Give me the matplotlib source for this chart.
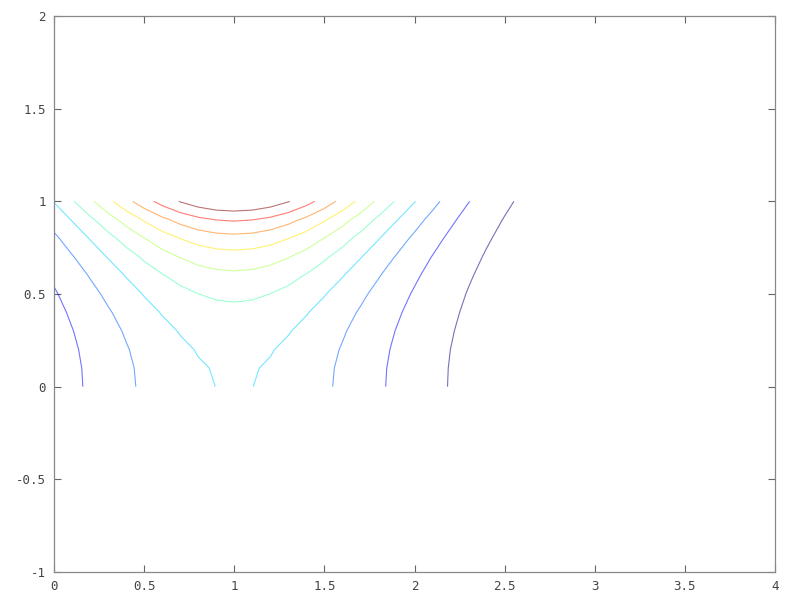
import numpy as np
import matplotlib
matplotlib.use("Agg")
import matplotlib.pyplot as plt

# Grid of the sampled field (coarse grid, as in the original)
x_start, x_stop, x_step = 0.0, 4.0, 0.1
y_start, y_stop, y_step = 0.0, 1.0, 0.1
x_center = 1.0
n_levels = 10

# Axis settings
x_limits = [0, 4]
y_limits = [-1, 2]
x_ticks = [0, 0.5, 1, 1.5, 2, 2.5, 3, 3.5, 4]
y_ticks = [-1, -0.5, 0, 0.5, 1, 1.5, 2]
x_tick_labels = ["0", "0.5", "1", "1.5", "2", "2.5", "3", "3.5", "4"]
y_tick_labels = ["-1", "-0.5", "0", "0.5", "1", "1.5", "2"]

xs = np.arange(x_start, x_stop + x_step / 2, x_step)
ys = np.arange(y_start, y_stop + y_step / 2, y_step)
X, Y = np.meshgrid(xs, ys)
Z = np.exp(-(X - x_center) ** 2 + Y ** 2)

zmin, zmax = Z.min(), Z.max()
levels = np.linspace(zmin, zmax, n_levels + 2)[1:-1]

fig = plt.figure(figsize=(8, 6), dpi=100)
ax = fig.add_axes([54 / 800, 1 - 572 / 600, (775 - 54) / 800, (572 - 16) / 600])
ax.contour(X, Y, Z, levels=levels, cmap="jet", vmin=levels[0], vmax=levels[-1],
           linewidths=0.8, alpha=0.55)

ax.set_xlim(x_limits)
ax.set_ylim(y_limits)
ax.set_xticks(x_ticks)
ax.set_yticks(y_ticks)
ax.set_xticklabels(x_tick_labels)
ax.set_yticklabels(y_tick_labels)
ax.tick_params(direction="in", top=True, right=True, length=5, width=0.8,
               colors="#666666", labelsize=9, pad=6)
for lab in ax.get_xticklabels() + ax.get_yticklabels():
    lab.set_family("DejaVu Sans Mono")
    lab.set_color("#444444")
for s in ax.spines.values():
    s.set_color("#888888")
    s.set_linewidth(0.9)

fig.savefig("out.png", dpi=100)
